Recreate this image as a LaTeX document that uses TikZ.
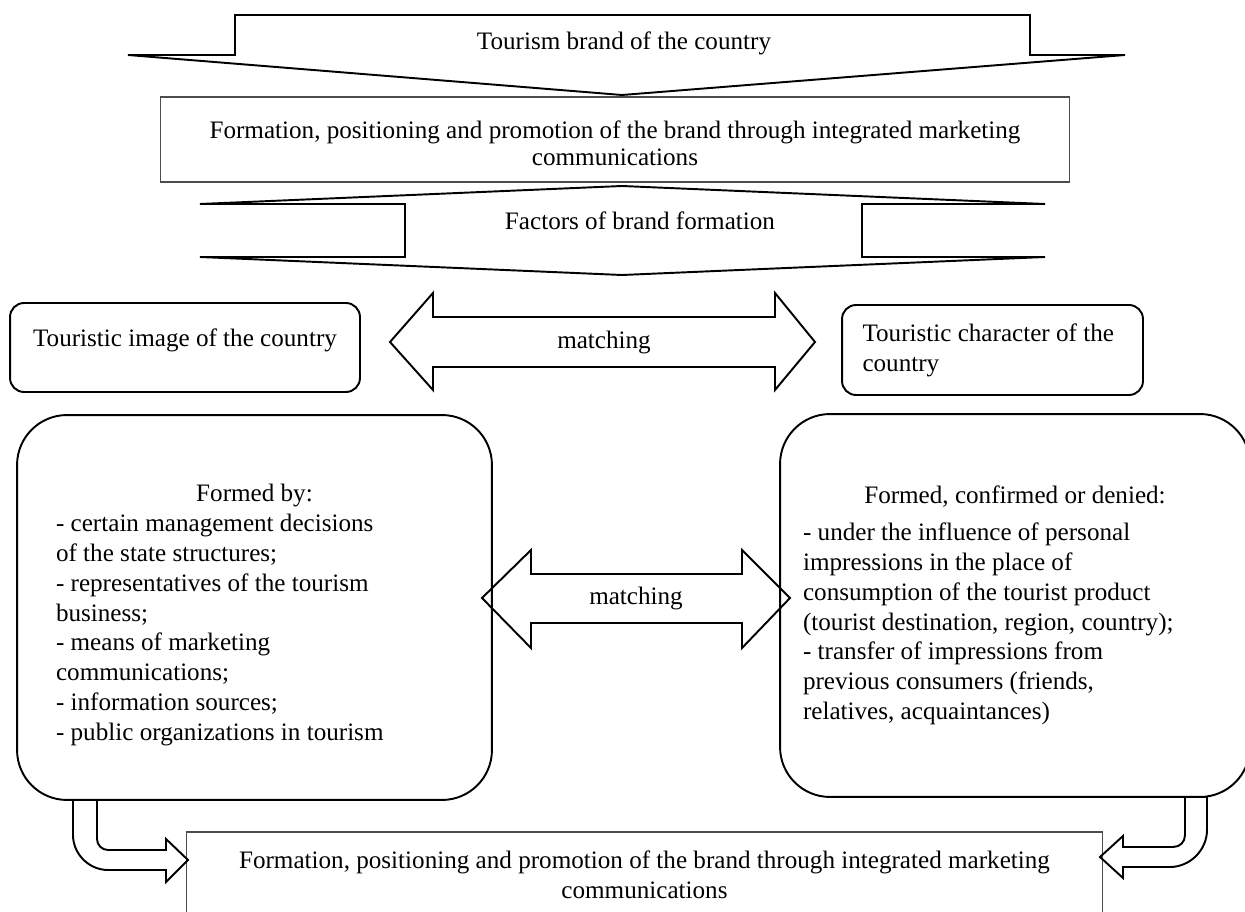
\documentclass[tikz,border=0pt]{standalone}
\usepackage{fontspec}
\setmainfont{Liberation Serif}

\begin{document}
\begin{tikzpicture}[
    x=0.02cm, y=-0.02cm,
    txt/.style={font=\fontsize{14.3pt}{17pt}\selectfont},
    box/.style={txt, draw=black!70, line width=0.6pt, align=center, inner sep=0pt},
    softbox/.style={txt, draw, line width=1.1pt, rounded corners=0.28cm, inner sep=0pt},
    bigbox/.style={txt, draw, line width=1.1pt, rounded corners=1cm, inner sep=0pt, align=flush left},
    blockarrow/.style={draw, line width=1.1pt, line join=miter},
    tag/.style={txt, inner sep=0pt}
]
    \useasboundingbox (0,0) rectangle (1245,912);

    % top: brand arrow and the two bands
    \draw [blockarrow] (128,55) -- (235,55) -- (235,15) -- (1030,15) -- (1030,55) -- (1125,55) -- (622,95) -- cycle;
    \node (brand) [tag] at (624,43) {Tourism brand of the country};

    \node (promo) [box, minimum width=18.2cm, minimum height=1.7cm, text width=17.6cm, align=flush center,
        font=\fontsize{14.3pt}{15.4pt}\selectfont, text height=14pt] at (615,139.5)
        {Formation, positioning and promotion of the brand through integrated marketing\\communications};

    \draw [blockarrow] (200,204) -- (405,204) -- (405,257) -- (200,257) -- (622,275) -- (1045,257)
        -- (862,257) -- (862,204) -- (1045,204) -- (622,186) -- cycle;
    \node (factors) [tag] at (640,221) {Factors of brand formation};

    % image and character
    \node (image) [softbox, minimum width=7cm, minimum height=1.78cm, text depth=11.5pt] at (185,347.5)
        {Touristic image of the country};
    \node (character) [softbox, minimum width=6.02cm, minimum height=1.8cm, text width=5.2cm, align=flush left] at (992.5,350)
        {Touristic character of the\\country};

    \draw [blockarrow] (390,342) -- (433,293) -- (433,317) -- (775,317) -- (775,293) -- (815,342)
        -- (775,390) -- (775,367) -- (433,367) -- (433,390) -- cycle;
    \node (match1) [tag] at (604,342) {matching};

    % the two big boxes
    \node (formedby) [bigbox, minimum width=9.5cm, minimum height=7.7cm, text width=7.94cm, text height=18.5pt] at (254.5,607.5)
        {\hfill Formed by:\hfill\null\\
         - certain management decisions\\
         of the state structures;\\
         - representatives of the tourism\\
         business;\\
         - means of marketing\\
         communications;\\
         - information sources;\\
         - public organizations in tourism};
    \node (formedconf) [bigbox, minimum width=9.4cm, minimum height=7.66cm, text width=8.48cm] at (1015,605.5)
        {\hfill Formed, confirmed or denied:\hfill\null\\[4pt]
         - under the influence of personal\\
         impressions in the place of\\
         consumption of the tourist product\\
         (tourist destination, region, country);\\
         - transfer of impressions from\\
         previous consumers (friends,\\
         relatives, acquaintances)};

    \draw [blockarrow] (482,598) -- (531,550) -- (531,574) -- (742,574) -- (742,550) -- (790,598)
        -- (742,648) -- (742,623) -- (531,623) -- (531,648) -- cycle;
    \node (match2) [tag] at (636,598) {matching};

    % bottom band and bent arrows
    \node (promoend) [box, minimum width=18.34cm, minimum height=1.7cm] at (644.5,874.5)
        {Formation, positioning and promotion of the brand through integrated marketing\\communications};

    \draw [blockarrow] (73,800) -- (73,835) .. controls (73,854) and (89,870) .. (108,870) -- (166,870)
        -- (166,882) -- (188,860) -- (166,839) -- (166,850) -- (108,850)
        .. controls (102,850) and (97,845) .. (97,839) -- (97,800) -- cycle;
    \draw [blockarrow] (1207,797) -- (1207,830) .. controls (1207,850) and (1190,867) .. (1170,867) -- (1123,867)
        -- (1123,878) -- (1100,857) -- (1123,836) -- (1123,847) -- (1173,847)
        .. controls (1180,847) and (1185,842) .. (1185,835) -- (1185,797) -- cycle;
\end{tikzpicture}
\end{document}
